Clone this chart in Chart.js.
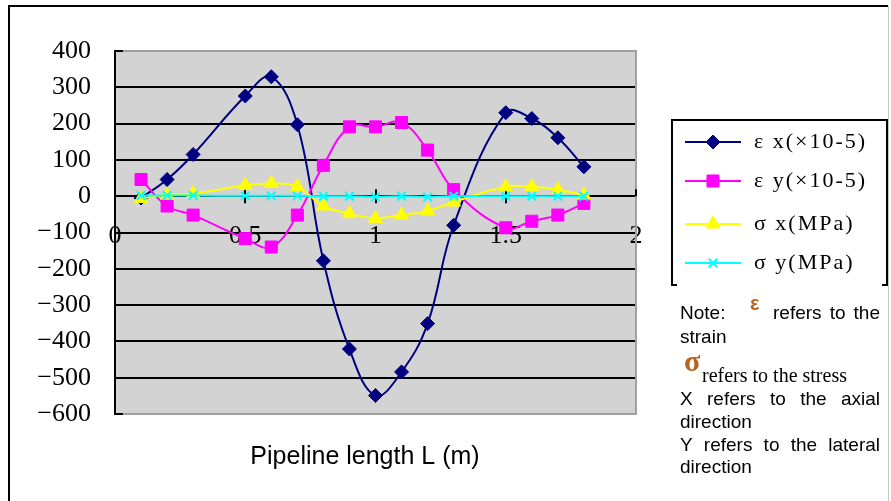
<!DOCTYPE html>
<html><head><meta charset="utf-8">
<script src="https://cdn.jsdelivr.net/npm/chart.js@4/dist/chart.umd.min.js"></script>
<style>html,body{margin:0;padding:0;background:#fff;}canvas{display:block;}</style>
</head><body>
<canvas id="c" width="891" height="501"></canvas>
<script>
// ---- data ----
const positions = [0.1,0.2,0.3,0.5,0.6,0.7,0.8,0.9,1.0,1.1,1.2,1.3,1.5,1.6,1.7,1.8];
const strainX = [-5,46,115,276,329,197,-178,-421,-549,-484,-351,-80,230,214,161,81];
const strainY = [46,-27,-52,-117,-140,-52,85,191,191,203,127,18,-87,-69,-52,-20];
const stressX = [-6,3,7,30,35,26,-27,-48,-61,-52,-41,-16,26,26,18,3];
const stressY = [2,2,2,1,1,1,0,0,-2,0,-2,0,0,0,0,0];
const seriesLabels = ['ε x(×10-5)','ε y(×10-5)','σ x(MPa)','σ y(MPa)'];
const xTickValues = [0,0.5,1,1.5,2];
const xTickLabels = ['0','0.5','1','1.5','2'];
const yTickValues = [400,300,200,100,0,-100,-200,-300,-400,-500,-600];
const yTickLabels = ['400','300','200','100','0','−100','−200','−300','−400','−500','−600'];
const xTitle = 'Pipeline length L (m)';

const toPts = arr => positions.map((x,i)=>({x:x, y:arr[i]}));

const SERIF = '"Liberation Serif", "DejaVu Serif", serif';
const SANS = '"Liberation Sans", Arial, sans-serif';

const decorPlugin = {
  id:'decor',
  beforeDraw(chart){
    const ctx = chart.ctx, a = chart.chartArea;
    ctx.save();
    ctx.fillStyle='#fff'; ctx.fillRect(0,0,chart.width,chart.height);
    ctx.strokeStyle='#000'; ctx.lineWidth=2;
    ctx.beginPath(); ctx.moveTo(9,501); ctx.lineTo(9,6); ctx.lineTo(888,6); ctx.stroke();
    ctx.strokeStyle='#c8c8c8'; ctx.lineWidth=1;
    ctx.beginPath(); ctx.moveTo(888.5,6); ctx.lineTo(888.5,501); ctx.stroke();
    ctx.fillStyle='#d3d3d3';
    ctx.fillRect(a.left,a.top,a.right-a.left,a.bottom-a.top);
    ctx.restore();
  },
  beforeDatasetsDraw(chart){
    const ctx = chart.ctx, a = chart.chartArea, xs = chart.scales.x, ys = chart.scales.y;
    ctx.save();
    ctx.strokeStyle='#a0a0a0'; ctx.lineWidth=2;
    ctx.beginPath();
    ctx.moveTo(a.left,a.top); ctx.lineTo(a.right,a.top); ctx.lineTo(a.right,a.bottom); ctx.lineTo(a.left,a.bottom);
    ctx.stroke();
    ctx.strokeStyle='#000'; ctx.lineWidth=2;
    ctx.beginPath();
    [yTickValues[0], yTickValues[yTickValues.length-1]].forEach(v=>{
      const y = ys.getPixelForValue(v);
      ctx.moveTo(a.left,y); ctx.lineTo(a.left+8,y);
    });
    const y0 = ys.getPixelForValue(0);
    xTickValues.forEach(v=>{
      const x = Math.round(xs.getPixelForValue(v));
      if (v===0) return;
      ctx.moveTo(x,y0-7); ctx.lineTo(x, v===2 ? y0 : y0+7);
    });
    ctx.stroke();
    ctx.restore();
  },
  afterDraw(chart){
    const ctx = chart.ctx;
    ctx.save();
    ctx.strokeStyle='#000'; ctx.lineWidth=2;
    ctx.beginPath();
    ctx.moveTo(672,286); ctx.lineTo(672,120); ctx.lineTo(887,120); ctx.lineTo(887,286);
    ctx.moveTo(672,285); ctx.lineTo(677,285);
    ctx.moveTo(887,285); ctx.lineTo(882,285);
    ctx.stroke();
    const rows=[142,181,224,263];
    chart.data.datasets.forEach((ds,i)=>{
      const y=rows[i];
      ctx.strokeStyle=ds.borderColor; ctx.lineWidth=2;
      ctx.beginPath(); ctx.moveTo(685,y); ctx.lineTo(741,y); ctx.stroke();
      ctx.fillStyle=ds.backgroundColor; ctx.strokeStyle=ds.borderColor;
      ctx.lineWidth=ds.pointBorderWidth;
      Chart.helpers.drawPoint(ctx,{pointStyle:ds.pointStyle,radius:ds.pointRadius,borderWidth:ds.pointBorderWidth,rotation:0},713,y);
      ctx.fillStyle='#000'; ctx.font='22px '+SERIF; ctx.textAlign='left'; ctx.textBaseline='middle';
      try{ ctx.letterSpacing='2px'; }catch(e){}
      ctx.fillText(ds.label,754,y);
      try{ ctx.letterSpacing='0px'; }catch(e){}
    });
    const justify=(words,x0,x1,y)=>{
      const ws=words.map(w=>ctx.measureText(w).width);
      const total=ws.reduce((s,w)=>s+w,0);
      const gap=(x1-x0-total)/(words.length-1);
      let x=x0;
      words.forEach((w,i)=>{ ctx.fillText(w,x,y); x+=ws[i]+gap; });
    };
    ctx.textBaseline='alphabetic'; ctx.textAlign='left'; ctx.fillStyle='#000';
    ctx.font='19px '+SANS;
    ctx.fillText('Note:',680,319);
    justify(['refers','to','the'],773,880,319);
    ctx.fillText('strain',680,343);
    justify(['X','refers','to','the','axial'],680,880,405);
    ctx.fillText('direction',680,428);
    justify(['Y','refers','to','the','lateral'],680,880,451);
    ctx.fillText('direction',680,473);
    ctx.font='20px '+SERIF;
    ctx.fillText('refers to the stress',702,382);
    ctx.fillStyle='#b5651d';
    ctx.font='bold 20px '+SANS;
    ctx.fillText('ε',750,310);
    ctx.font='bold 30px '+SERIF;
    ctx.fillText('σ',684,371);
    ctx.fillStyle='#000'; ctx.font='25px '+SANS; ctx.textAlign='center';
    ctx.fillText(xTitle,365,464);
    ctx.restore();
  }
};

new Chart(document.getElementById('c'),{
  type:'line',
  data:{datasets:[
    {label:seriesLabels[0],data:toPts(strainX),borderColor:'#000080',backgroundColor:'#000080',borderWidth:2,
     pointStyle:'rectRot',pointRadius:7,pointBorderWidth:1,tension:0.4,order:4},
    {label:seriesLabels[1],data:toPts(strainY),borderColor:'#ff00ff',backgroundColor:'#ff00ff',borderWidth:2,
     pointStyle:'rect',pointRadius:8.5,pointBorderWidth:1,tension:0.4,order:3},
    {label:seriesLabels[2],data:toPts(stressX),borderColor:'#ffff00',backgroundColor:'#ffff00',borderWidth:2,
     pointStyle:'triangle',pointRadius:8,pointBorderWidth:1,tension:0.4,order:2},
    {label:seriesLabels[3],data:toPts(stressY),borderColor:'#00ffff',backgroundColor:'#00ffff',borderWidth:2,
     pointStyle:'crossRot',pointRadius:6,pointBorderWidth:2,tension:0.4,order:1}
  ]},
  options:{
    responsive:false, animation:false, events:[],
    layout:{padding:{left:0,top:51,right:255,bottom:87}},
    plugins:{legend:{display:false},tooltip:{enabled:false},title:{display:false}},
    scales:{
      x:{type:'linear',min:0,max:2,position:{y:0},
        afterBuildTicks:s=>{s.ticks=xTickValues.map(v=>({value:v}));},
        grid:{display:false,drawTicks:false},
        border:{display:false},
        ticks:{padding:24,color:'#000',font:{family:SERIF,size:26},maxRotation:0,autoSkip:false,
          callback:(v,i)=>xTickLabels[i]}
      },
      y:{type:'linear',min:-600,max:400,
        afterBuildTicks:s=>{s.ticks=yTickValues.map(v=>({value:v}));},
        afterFit:s=>{s.width=115;},
        grid:{color:c=>(c.tick&&(c.tick.value===400||c.tick.value===-600))?'rgba(0,0,0,0)':'#000',lineWidth:2,drawTicks:false},
        border:{display:true,color:'#000',width:2},
        ticks:{padding:24,color:'#000',font:{family:SERIF,size:26},autoSkip:false,
          callback:(v,i)=>yTickLabels[i]}
      }
    }
  },
  plugins:[decorPlugin]
});
</script>
</body></html>
